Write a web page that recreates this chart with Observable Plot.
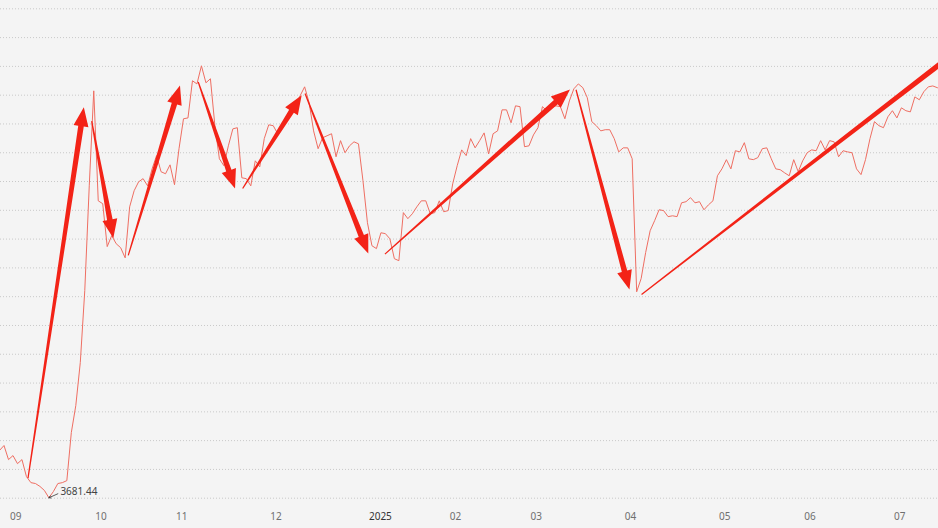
<!DOCTYPE html>
<html><head><meta charset="utf-8">
<script src="https://cdn.jsdelivr.net/npm/d3@7"></script>
<script src="https://cdn.jsdelivr.net/npm/@observablehq/plot@0.6"></script>
<style>html,body{margin:0;padding:0;background:#f4f4f4;overflow:hidden}</style>
</head><body><div id="chart"></div>
<script>
// trading-day index of the first close (2024-09-02 = 0)
const firstIndex = -2;
// daily closes, one per trading day
const closes = [
  3846,3863,3814,3828,3800,3814,3755,3734,3731,3721,3707,3681.44,3703,3731,3734,3741,
  3908,4002,4151,4401,4765,5095,
  4713,4703,4554,4592,4564,4550,4515,4692,4748,4779,4790,4765,4824,4870,4814,4807,4838,
  4769,4894,4998,5001,5130,5119,5182,5123,5137,4974,4859,4835,4904,4963,4967,4793,4790,4765,4852,4831,4929,
  4977,4974,4946,4963,4998,5033,5047,5078,5109,5054,4956,4894,4932,4939,4946,4866,4922,4880,4904,4918,4911,4783,
  4637,4557,4547,4602,4599,4581,4512,4505,4672,4651,4668,4692,4713,4713,4668,4672,4713,4675,
  4679,4772,4835,4890,4870,4929,4897,4922,4949,4876,4946,4956,5029,5029,4984,5043,5040,4901,
  4904,4942,4967,5040,5026,5036,5043,5040,4998,5060,5102,5119,5106,5071,4988,4974,4956,4960,4960,4929,4883,
  4897,4897,4859,4397,4443,4533,4609,4644,4682,4679,4658,4661,4658,4706,4710,4724,4706,4710,4682,4699,4713,
  4800,4824,4856,4824,4887,4883,4915,4859,4856,4863,4894,4897,4859,4824,4821,4810,4800,4856,4814,
  4852,4880,4890,4887,4922,4890,4922,4918,4866,4887,4883,4880,4824,4804,4856,4929,4988,4974,4967,5005,
  5026,5001,5036,5026,5022,5074,5064,5092,5109,5112,5106,5102
];
// first trading day of each month and its label
const tickIndex  = [0, 19, 37, 58, 80, 98, 116, 137, 158, 177, 197];
const tickLabels = ["09","10","11","12","2025","02","03","04","05","06","07"];
// lowest close
const lowIndex = 9;
const lowValue = 3681.44;
// hand-drawn arrows (trading-day index, value)
const arrowFromIdx = [4.46, 18.65, 26.8, 42.4, 52.3, 66.2, 84.0, 126.6, 141.2];
const arrowFromVal = [3748, 4988, 4522, 5124, 4754, 5084, 4526, 5097, 4386];
const arrowToIdx   = [16.9, 23.47, 38.33, 50.6, 65.45, 80.3, 125.25, 138.5, 214];
const arrowToVal   = [5036, 4581, 5112, 4754, 5078, 4528, 5098, 4403, 5262];
// horizontal grid values
const gridValues = d3.range(3680, 5381, 100);

const series = closes.map((v, k) => ({i: firstIndex + k, v}));
const arrows = arrowFromIdx.map((d, k) => ({x1: d, y1: arrowFromVal[k], x2: arrowToIdx[k], y2: arrowToVal[k]}));

const ARROW = "#f32317";
function taperedArrows(index, scales, values) {
  const g = d3.create("svg:g");
  const w0 = 1.2, w1 = 5.6, L = 19, W = 15;
  for (const k of index) {
    const x1 = values.x1[k], y1 = values.y1[k], x2 = values.x2[k], y2 = values.y2[k];
    const dx = x2 - x1, dy = y2 - y1, len = Math.hypot(dx, dy);
    const ux = dx / len, uy = dy / len, nx = -uy, ny = ux;
    const bx = x2 - ux * L, by = y2 - uy * L;
    const p = [
      [x1 + nx * w0 / 2, y1 + ny * w0 / 2],
      [bx + nx * w1 / 2, by + ny * w1 / 2],
      [bx + nx * W / 2, by + ny * W / 2],
      [x2, y2],
      [bx - nx * W / 2, by - ny * W / 2],
      [bx - nx * w1 / 2, by - ny * w1 / 2],
      [x1 - nx * w0 / 2, y1 - ny * w0 / 2]
    ];
    g.append("path").attr("d", "M" + p.map(q => q.join(",")).join("L") + "Z").attr("fill", ARROW);
  }
  return g.node();
}

const chart = Plot.plot({
  width: 938,
  height: 528,
  marginLeft: 0,
  marginRight: 0,
  marginTop: 8.3,
  marginBottom: 30.3,
  style: {background: "#f4f4f4", fontFamily: "'Noto Sans', sans-serif", overflow: "hidden"},
  x: {type: "linear", domain: [-1.783, 207.27], axis: null},
  y: {domain: [3680, 5380], axis: null},
  marks: [
    Plot.ruleY(gridValues, {stroke: "#c9c9c9", strokeWidth: 1, strokeDasharray: "1,2"}),
    Plot.line(series, {x: "i", y: "v", stroke: "#ee6e62", strokeWidth: 1, clip: true}),
    Plot.link(arrows, {x1: "x1", y1: "y1", x2: "x2", y2: "y2", stroke: ARROW, render: taperedArrows}),
    Plot.arrow([0], {x1: () => lowIndex + 2, y1: () => lowValue + 14, x2: () => lowIndex, y2: () => lowValue,
      stroke: "#333", strokeWidth: 0.8, headLength: 4}),
    Plot.text([0], {x: () => lowIndex, y: () => lowValue, text: () => lowValue.toFixed(2),
      dx: 11.5, dy: -6, textAnchor: "start", fontSize: 10, fill: "#444"}),
    Plot.text(tickIndex, {x: d => d, frameAnchor: "bottom", dy: 22, dx: 1.5,
      text: (d, k) => tickLabels[k], textAnchor: "start", fontSize: 10,
      fill: (d, k) => tickLabels[k] === "2025" ? "#333" : "#6f6f6f"})
  ]
});
document.getElementById("chart").appendChild(chart);
</script>
</body></html>
